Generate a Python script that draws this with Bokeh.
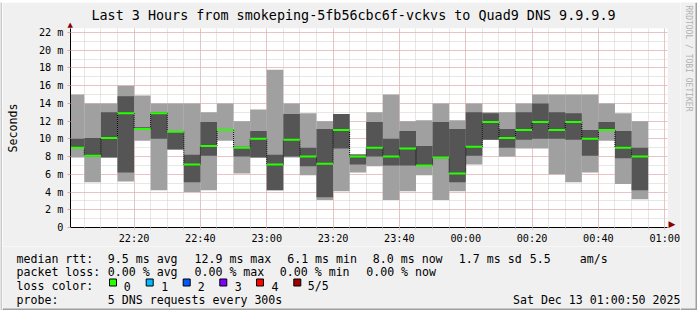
from datetime import datetime
from math import pi
from bokeh.plotting import figure
from bokeh.layouts import row, column
from bokeh.models import (FixedTicker, DatetimeTickFormatter, Range1d, ColumnDataSource, Title,
                          LinearAxis)
from bokeh.core.properties import value
from bokeh.embed import file_html
from bokeh.resources import INLINE

# ---------------- data ----------------
bin_end = ["22:05", "22:10", "22:15", "22:20", "22:25", "22:30", "22:35", "22:40", "22:45",
           "22:50", "22:55", "23:00", "23:05", "23:10", "23:15", "23:20", "23:25", "23:30",
           "23:35", "23:40", "23:45", "23:50", "23:55", "00:00", "00:05", "00:10", "00:15",
           "00:20", "00:25", "00:30", "00:35", "00:40", "00:45", "00:50", "00:55"]
ping_min = [7.9, 5.1, 7.9, 5.2, 9.8, 4.2, 8.8, 4.0, 4.2, 9.8, 6.1, 7.9, 4.2, 7.9, 5.9, 3.1, 4.1, 6.2,
            6.9, 3.1, 4.1, 5.9, 3.1, 4.1, 7.1, 9.9, 8.0, 8.9, 8.9, 6.0, 5.1, 6.2, 9.8, 4.9, 3.2]
ping_lo = [9.0, 8.0, 7.9, 6.2, 11.0, 10.0, 8.8, 5.1, 8.1, 10.9, 8.0, 7.9, 4.2, 8.0, 6.9, 3.4, 8.9, 7.1,
           8.0, 7.0, 7.0, 7.0, 7.8, 5.1, 8.1, 9.9, 9.0, 9.9, 10.0, 10.0, 9.9, 8.1, 10.9, 7.8, 4.2]
median = [9.0, 8.1, 10.1, 12.9, 11.1, 12.9, 10.8, 7.1, 9.2, 11.0, 9.0, 10.0, 7.1, 9.9, 8.0, 7.2, 11.0, 8.0,
          9.0, 8.0, 8.9, 7.0, 7.9, 6.1, 9.1, 11.9, 10.1, 11.0, 11.9, 11.0, 11.9, 10.0, 11.0, 9.0, 8.0]
ping_hi = [10.0, 10.1, 13.0, 14.8, 11.3, 13.0, 10.9, 8.2, 11.9, 11.1, 9.1, 10.9, 8.2, 12.8, 9.0, 11.1, 12.8, 8.2,
           11.9, 10.0, 10.9, 9.2, 11.9, 11.1, 13.0, 12.9, 11.1, 13.0, 14.0, 13.0, 12.9, 11.0, 11.9, 10.9, 9.0]
ping_max = [15.0, 14.0, 14.0, 16.0, 14.9, 14.0, 14.0, 14.0, 13.0, 14.0, 12.0, 13.3, 17.8, 14.0, 12.9, 12.0, 12.8, 8.3,
            13.0, 15.0, 12.0, 12.1, 14.0, 12.1, 14.0, 13.0, 13.0, 14.0, 15.0, 15.0, 15.0, 15.0, 14.0, 12.9, 12.0]

y_ticks = [0, 2, 4, 6, 8, 10, 12, 14, 16, 18, 20, 22]
y_tick_labels = ["0", "2 m", "4 m", "6 m", "8 m", "10 m", "12 m", "14 m", "16 m", "18 m", "20 m", "22 m"]
x_tick_labels = ["22:20", "22:40", "23:00", "23:20", "23:40", "00:00", "00:20", "00:40", "01:00"]

title = "Last 3 Hours from smokeping-5fb56cbc6f-vckvs to Quad9 DNS 9.9.9.9"
rtt_stats = ["9.5 ms avg", "12.9 ms max", "6.1 ms min", "8.0 ms now", "1.7 ms sd", "5.5", "am/s"]
loss_stats = ["0.00 % avg", "0.00 % max", "0.00 % min", "0.00 % now"]
loss_names = ["0", "1", "2", "3", "4", "5/5"]
loss_colors = ["#26ff00", "#00b8ff", "#0059ff", "#7e00ff", "#ff0000", "#a10000"]
probe_text = "5 DNS requests every 300s"
stamp = "Sat Dec 13 01:00:50 2025"
watermark = "RRDTOOL / TOBI OETIKER"

# ---------------- helpers ----------------
EPOCH = datetime(1970, 1, 1)
def ms(dt):
    return (dt - EPOCH).total_seconds() * 1000.0

def hm(s):
    h, m = map(int, s.split(":"))
    day = 12 if h >= 12 else 13
    return ms(datetime(2025, 12, day, h, m))

T0 = ms(datetime(2025, 12, 12, 22, 0, 50))
T1 = ms(datetime(2025, 12, 13, 1, 0, 50))
YMAX = 22.45
W, H = 697, 310
S = 2                 # 3d border width
XR = 680              # x where the right-hand strip starts
YL = 246              # y where the legend part starts
FL, FR, FT, FB = 67, 667, 28, 228
MONO = "DejaVu Sans Mono"
BG = "#f0f0f0"
SHADE_A = "#cbcbcb"
SHADE_B = "#9e9e9e"
ARROW = "#8b0000"

def blank(w, h, x0, x1, y0, y1, color=BG):
    f = figure(width=w, height=h, x_range=Range1d(x0, x1), y_range=Range1d(y1, y0),
               output_backend="svg", toolbar_location=None, min_border=0,
               x_axis_location=None, y_axis_location=None,
               background_fill_color=color, border_fill_color=color, outline_line_color=None)
    f.frame_align = False
    f.grid.visible = False
    return f

right = [hm(t) for t in bin_end]
left = [max(r - 300000.0, T0) for r in right]
src = ColumnDataSource(dict(left=left, right=right, mn=ping_min, lo=ping_lo, md=median,
                            hi=ping_hi, mx=ping_max))

WP, HP = XR - S, YL - S
p = figure(width=WP, height=HP, x_axis_type="datetime", title=None,
           x_range=Range1d(T0, T1), y_range=Range1d(0, YMAX),
           output_backend="svg", toolbar_location=None,
           min_border_left=FL - S, min_border_right=XR - FR, min_border_top=FT - S,
           min_border_bottom=YL - FB,
           background_fill_color="white", border_fill_color=BG, outline_line_color=None)
p.frame_align = False

# up arrow of the y axis (nearest the frame), then the title
p.add_layout(Title(text="▲", align="left", offset=-3, standoff=0, text_font="DejaVu Sans",
                   text_font_size="7px", text_font_style="normal", text_color=ARROW), "above")
p.add_layout(Title(text=title, align="left", offset=21, standoff=-9, text_font=MONO,
                   text_font_size="13.4px", text_font_style="normal", text_color="black"), "above")

# right arrow of the x axis: a bare axis on the right whose only label is the arrow head
ARROW_AT = 0.35
arrow_axis = LinearAxis(ticker=FixedTicker(ticks=[ARROW_AT]), major_label_overrides={ARROW_AT: "▶"},
                        axis_line_color=None, major_tick_line_color=None, minor_tick_line_color=None,
                        major_tick_in=0, major_tick_out=0, major_label_standoff=1,
                        major_label_text_font="DejaVu Sans", major_label_text_font_size="9px",
                        major_label_text_color=ARROW)
p.add_layout(arrow_axis, "right")

# grid
x_major = [hm(t) for t in x_tick_labels]
x_minor = []
t = hm("22:05")
while t <= T1:
    x_minor.append(t)
    t += 300000.0
y_minor = list(range(1, 23))

p.xgrid.ticker = FixedTicker(ticks=x_major, minor_ticks=x_minor)
p.ygrid.ticker = FixedTicker(ticks=y_ticks, minor_ticks=y_minor)
for g in (p.xgrid[0], p.ygrid[0]):
    g.grid_line_color = "#eba0a0"
    g.grid_line_dash = "1 1"
    g.minor_grid_line_color = "#cfcfcf"
    g.minor_grid_line_dash = "1 1"

# smoke
p.quad(left="left", right="right", bottom="mn", top="mx", source=src,
       fill_color="#a0a0a0", line_color=None)
p.quad(left="left", right="right", bottom="lo", top="hi", source=src,
       fill_color="#555555", line_color=None)
p.segment(x0=right[:-1], x1=right[:-1], y0=median[:-1], y1=median[1:],
          line_color="black", line_dash="1 1", line_width=1)
p.segment(x0="left", x1="right", y0="md", y1="md", source=src,
          line_color=loss_colors[0], line_width=2)

# axes
ya = p.yaxis[0]
ya.ticker = FixedTicker(ticks=y_ticks)
ya.major_label_overrides = {v: s for v, s in zip(y_ticks, y_tick_labels)}
ya.axis_label = "Seconds"
ya.axis_label_text_font = MONO
ya.axis_label_text_font_size = "11.6px"
ya.axis_label_text_font_style = "normal"
ya.axis_label_text_color = "black"
ya.axis_label_standoff = 16
ya.major_label_standoff = 4
ya.major_tick_out = 3
ya.major_tick_in = 0
ya.major_tick_line_color = "#eba0a0"
ya.minor_tick_line_color = None
ya.axis_line_color = "black"

xa = p.xaxis[0]
xa.ticker = FixedTicker(ticks=x_major, minor_ticks=x_minor)
xa.formatter = DatetimeTickFormatter(minutes="%H:%M", hours="%H:%M", hourmin="%H:%M",
                                     minsec="%H:%M", seconds="%H:%M", days="%H:%M")
xa.major_label_standoff = 3
xa.major_tick_out = 2
xa.major_tick_in = 0
xa.minor_tick_out = 2
xa.minor_tick_in = 0
xa.major_tick_line_color = "#eba0a0"
xa.minor_tick_line_color = "#cfcfcf"
xa.axis_line_color = "black"
for ax in (xa, ya):
    ax.major_label_text_font = MONO
    ax.major_label_text_font_size = "10.2px"
    ax.major_label_text_color = "black"

# ---------------- legend part (absolute pixel coordinates) ----------------
q = blank(XR - S, H - YL, S, XR, YL, H)

r1, r2, r3, r4 = 258.2, 271.9, 285.6, 299.3
txt_x, txt_y, txt = [], [], []
def put(x, y, s):
    txt_x.append(x); txt_y.append(y); txt.append(s)

put(16, r1, "median rtt:")
for x, s in zip([107.3, 194, 286.7, 372.3, 458.3, 529.3, 579.3], rtt_stats):
    put(x, r1, s)
put(16, r2, "packet loss:")
for x, s in zip([107.3, 194, 279.3, 365.7], loss_stats):
    put(x, r2, s)
put(16, r3, "loss color:")
sw_x = [109, 145.7, 182.7, 219.3, 256, 293.3]
for tx, name in zip([123.3, 160.7, 197.3, 234.3, 271, 307.3], loss_names):
    put(tx, r3, name)
put(16, r4, "probe:")
put(107.3, r4, probe_text)

q.text(x=txt_x, y=txt_y, text=txt, text_font=value(MONO), text_font_size=value("11.6px"),
       text_baseline="alphabetic", text_align="left", text_color="black")
q.text(x=[680], y=[r4], text=[stamp], text_font=value(MONO), text_font_size=value("11.6px"),
       text_baseline="alphabetic", text_align="right", text_color="black")
q.quad(left=sw_x, right=[x + 7 for x in sw_x], top=[278.5] * 6, bottom=[285.5] * 6,
       fill_color=loss_colors, line_color="black", line_width=1)
q.quad(left=[S], right=[XR], top=[H - S], bottom=[H], fill_color=SHADE_B, line_color=None)

# ---------------- right strip: watermark + shadow ----------------
rs = blank(W - XR, H - S, XR, W, S, H)
rs.text(x=[688], y=[5], text=[watermark], angle=-pi / 2, text_font=value(MONO),
        text_font_size=value("8px"), text_baseline="middle", text_align="left",
        text_color="#b0b0b0")
rs.quad(left=[W - S], right=[W], top=[S], bottom=[H], fill_color=SHADE_B, line_color=None)
rs.quad(left=[XR], right=[W], top=[H - S], bottom=[H], fill_color=SHADE_B, line_color=None)

# ---------------- top and left light borders ----------------
top = blank(W, S, 0, W, 0, S, SHADE_A)
lft = blank(S, H - S, 0, S, S, H, SHADE_A)

layout = column(top, row(lft, column(p, q, spacing=0), rs, spacing=0), spacing=0)
open("out.html", "w").write(file_html(layout, INLINE))
